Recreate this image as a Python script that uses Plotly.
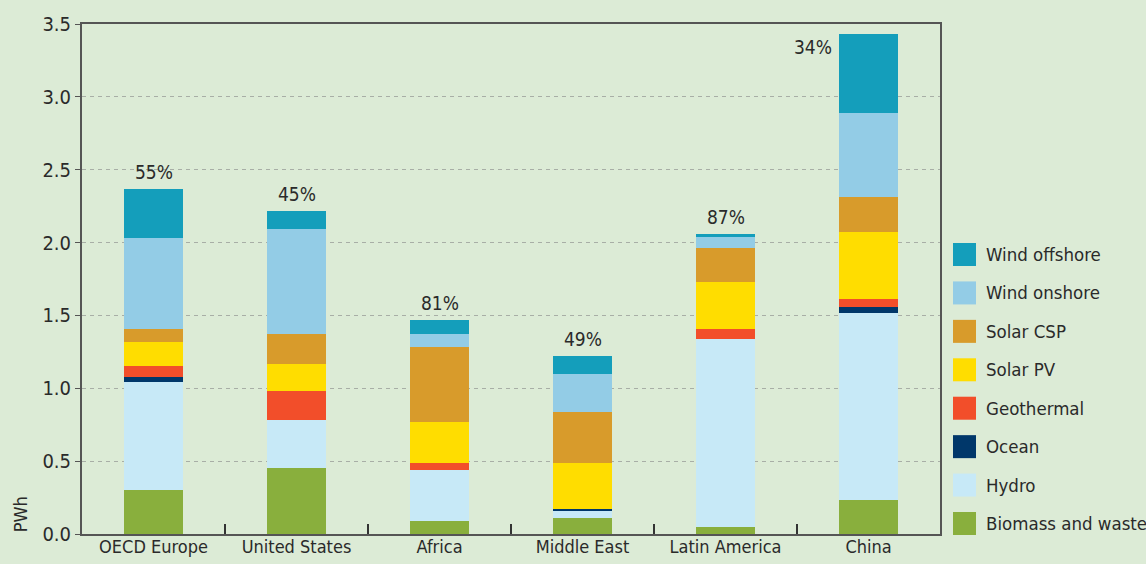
import plotly.graph_objects as go

regions = ["OECD Europe", "United States", "Africa", "Middle East", "Latin America", "China"]
shares = ["55%", "45%", "81%", "49%", "87%", "34%"]

biomass = [0.30, 0.45, 0.09, 0.11, 0.05, 0.23]
hydro = [0.74, 0.33, 0.35, 0.05, 1.285, 1.29]
ocean = [0.04, 0.0, 0.0, 0.015, 0.0, 0.035]
geothermal = [0.07, 0.20, 0.05, 0.0, 0.075, 0.055]
solar_pv = [0.17, 0.19, 0.28, 0.315, 0.32, 0.46]
solar_csp = [0.09, 0.20, 0.51, 0.35, 0.235, 0.24]
wind_onshore = [0.62, 0.72, 0.09, 0.255, 0.075, 0.58]
wind_offshore = [0.34, 0.13, 0.10, 0.13, 0.02, 0.54]

series = [
    ("Biomass and waste", biomass, "#89AF3D"),
    ("Hydro", hydro, "#C7E9F7"),
    ("Ocean", ocean, "#00376A"),
    ("Geothermal", geothermal, "#F24E2A"),
    ("Solar PV", solar_pv, "#FFDD00"),
    ("Solar CSP", solar_csp, "#D89B2B"),
    ("Wind onshore", wind_onshore, "#93CCE6"),
    ("Wind offshore", wind_offshore, "#149EBB"),
]

FONT = "DejaVu Sans Condensed, Liberation Sans, Arial, sans-serif"
TXT = "#2a2a2a"
BG = "#DCEBD6"

fig = go.Figure()
for name, vals, col in series:
    fig.add_trace(go.Bar(x=regions, y=vals, name=name, marker=dict(color=col, line=dict(width=0)),
                         showlegend=False))

totals = [sum(v[i] for _, v, _ in series) for i in range(len(regions))]

annotations = []
for i, (r, s) in enumerate(zip(regions, shares)):
    if i == len(regions) - 1:
        annotations.append(dict(x=r, y=totals[i], text=s, showarrow=False, xanchor="right", yanchor="top",
                                xshift=-35, yshift=0, font=dict(size=19, color=TXT, family=FONT)))
    else:
        annotations.append(dict(x=r, y=totals[i], text=s, showarrow=False, xanchor="center", yanchor="bottom",
                                yshift=4, font=dict(size=19, color=TXT, family=FONT)))

# y-axis title
annotations.append(dict(xref="paper", yref="paper", x=-0.072, y=0, text="PWh", textangle=-90, showarrow=False,
                        xanchor="center", yanchor="bottom", font=dict(size=18, color=TXT, family=FONT)))

# manual legend (top to bottom reversed from stacking order)
L, R, T, B = 82, 940, 24, 534
W, H = R - L, B - T
shapes = []
for j, (name, vals, col) in enumerate(reversed(series)):
    cy = 254.5 + j * 38.43
    y0 = (B - (cy + 11.5)) / H
    y1 = (B - (cy - 11.5)) / H
    x0 = (953 - L) / W
    x1 = (976 - L) / W
    shapes.append(dict(type="rect", xref="paper", yref="paper", x0=x0, x1=x1, y0=y0, y1=y1,
                       fillcolor=col, line=dict(width=0)))
    annotations.append(dict(xref="paper", yref="paper", x=(984 - L) / W, y=(B - cy) / H, text=name,
                            showarrow=False, xanchor="left", yanchor="middle",
                            font=dict(size=18.5, color=TXT, family=FONT)))

fig.update_layout(
    width=1146, height=564,
    margin=dict(l=L, r=1146 - R, t=T, b=564 - B),
    paper_bgcolor=BG, plot_bgcolor=BG,
    barmode="stack", bargap=0.59,
    font=dict(family=FONT, size=19, color=TXT),
    annotations=annotations, shapes=shapes,
    showlegend=False,
)
fig.update_yaxes(range=[0, 3.5], dtick=0.5, tickformat=".1f", showgrid=True, gridcolor="#A8AEA6",
                 griddash="4px,4px", gridwidth=1.2, zeroline=False, showline=True, linecolor="#555555",
                 linewidth=2, mirror=True, ticks="outside", ticklen=5, tickcolor="#555555",
                 automargin=False, tickfont=dict(size=20, color=TXT, family=FONT))
fig.update_xaxes(showline=True, linecolor="#555555", linewidth=2, mirror=True, ticks="inside",
                 tickson="boundaries", ticklen=10, tickcolor="#333333", tickwidth=1.5,
                 ticklabelstandoff=-5, automargin=False,
                 tickfont=dict(size=18, color=TXT, family=FONT))

fig.write_html("out.html", config={"displayModeBar": False},
               post_script="document.body.style.margin='0';document.body.style.overflow='hidden';"
                           "document.documentElement.style.overflow='hidden';")
